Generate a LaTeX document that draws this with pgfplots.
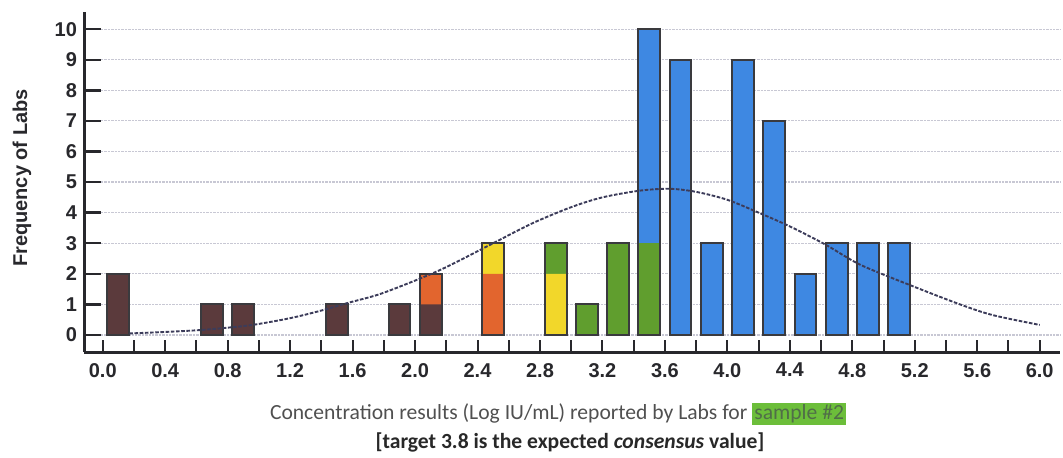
\documentclass[border=0pt]{standalone}
\usepackage{pgfplots}
\pgfplotsset{compat=1.18}
\usepackage{fontspec}
\setmainfont{Liberation Sans}
\newfontfamily\calibri{Carlito}

\definecolor{cbrown}{RGB}{91,58,60}
\definecolor{corange}{RGB}{226,101,46}
\definecolor{cyellow}{RGB}{242,215,42}
\definecolor{cgreen}{RGB}{96,158,46}
\definecolor{cblue}{RGB}{62,136,226}
\definecolor{edge}{RGB}{58,58,62}
\definecolor{axisdark}{RGB}{40,40,44}
\definecolor{gridc}{RGB}{200,200,212}
\definecolor{curvec}{RGB}{60,60,90}
\definecolor{hl}{RGB}{108,190,58}

\begin{document}
\begin{tikzpicture}
\begin{axis}[
 name=ax,clip=false,
 scale only axis,width=488pt,height=170pt,
 xmin=-0.12,xmax=6.13,ymin=-0.556,ymax=10.56,
 axis x line*=bottom,axis y line*=left,
 axis line style={line width=1.5pt,axisdark,-},
 tick align=inside,
 xtick={0,0.4,0.8,1.2,1.6,2.0,2.4,2.8,3.2,3.6,4.0,4.4,4.8,5.2,5.6,6.0},
 xticklabels={0.0,0.4,0.8,1.2,1.6,2.0,2.4,2.8,3.2,3.6,4.0,4.4,4.8,5.2,5.6,6.0},
 minor xtick={0,0.2,0.4,0.6,0.8,1.0,1.2,1.4,1.6,1.8,2.0,2.2,2.4,2.6,2.8,3.0,3.2,3.4,3.6,3.8,4.0,4.2,4.4,4.6,4.8,5.0,5.2,5.4,5.6,5.8,6.0},
 major x tick style={draw=none},
 minor x tick style={line width=1pt,axisdark},
 minor tick length=6pt,
 ytick={0,1,2,3,4,5,6,7,8,9,10},
 yticklabels={0,1,2,3,4,5,6,7,8,9,10},
 major tick length=8.5pt,
 y tick style={line width=1.2pt,axisdark},
 ymajorgrids,
 major grid style={gridc,line width=0.6pt,dash pattern=on 1.2pt off 0.5pt},
 ticklabel style={font=\fontsize{10}{12}\selectfont\bfseries,text=axisdark},
 xticklabel style={yshift=-2pt},
]
% filled layers, painted from the top of each stack down
% blue layer (tops of whole bars with blue)
\addplot[ybar,bar width=0.14,bar shift=0pt,fill=cblue,draw=none] coordinates {
 (3.5,10) (3.7,9) (3.9,3) (4.1,9) (4.3,7) (4.5,2) (4.7,3) (4.9,3) (5.1,3)};
% green layer
\addplot[ybar,bar width=0.14,bar shift=0pt,fill=cgreen,draw=none] coordinates {
 (2.9,3) (3.1,1) (3.3,3) (3.5,3)};
% yellow layer
\addplot[ybar,bar width=0.14,bar shift=0pt,fill=cyellow,draw=none] coordinates {
 (2.5,3) (2.9,2)};
% orange layer
\addplot[ybar,bar width=0.14,bar shift=0pt,fill=corange,draw=none] coordinates {
 (2.1,2) (2.5,2)};
% brown layer
\addplot[ybar,bar width=0.14,bar shift=0pt,fill=cbrown,draw=none] coordinates {
 (0.1,2) (0.7,1) (0.9,1) (1.5,1) (1.9,1) (2.1,1)};
% outline of each total
\addplot[ybar,bar width=0.14,bar shift=0pt,fill=none,draw=edge,line width=1pt] coordinates {
 (0.1,2) (0.7,1) (0.9,1) (1.5,1) (1.9,1) (2.1,2) (2.5,3) (2.9,3) (3.1,1) (3.3,3)
 (3.5,10) (3.7,9) (3.9,3) (4.1,9) (4.3,7) (4.5,2) (4.7,3) (4.9,3) (5.1,3)};
% fitted normal curve
\addplot[smooth,mark=none,curvec,line width=0.95pt,dash pattern=on 1.8pt off 0.8pt] coordinates {
 (0.17,0.05) (0.4,0.1) (0.62,0.16) (0.8,0.24) (0.96,0.33) (1.2,0.55) (1.4,0.8)
 (1.57,1.05) (1.77,1.33) (2.0,1.78) (2.2,2.22) (2.5,3.0) (2.75,3.65) (3.0,4.18)
 (3.2,4.5) (3.44,4.72) (3.63,4.78) (3.8,4.68) (4.0,4.42) (4.2,4.0) (4.4,3.55)
 (4.63,2.95) (4.85,2.3) (5.17,1.63) (5.49,1.0) (5.7,0.65) (6.0,0.33)};
\end{axis}
\node[rotate=90,anchor=center,font=\fontsize{10}{12}\selectfont\bfseries,text=axisdark]
 at ([xshift=-31pt,yshift=87pt]ax.south west) {Frequency of Labs};
\node[anchor=center,font=\calibri\fontsize{10.8}{13}\selectfont,text={rgb,255:red,80;green,80;blue,80},inner sep=0pt]
 at ([xshift=237pt,yshift=-31pt]ax.south west) {Concentration results (Log IU/mL) reported by Labs for \setlength{\fboxsep}{1pt}\colorbox{hl}{\textcolor[RGB]{80,110,72}{sample \#2}}};
\node[anchor=center,font=\calibri\fontsize{10.8}{13}\selectfont\bfseries,text={rgb,255:red,40;green,40;blue,40},inner sep=0pt]
 at ([xshift=243pt,yshift=-45pt]ax.south west) {[target 3.8 is the expected \textit{consensus} value]};
\pgfresetboundingbox
\path (ax.south west) ++(-42pt,-52.5pt) rectangle ++(531.5pt,228.5pt);
\end{tikzpicture}
\end{document}
